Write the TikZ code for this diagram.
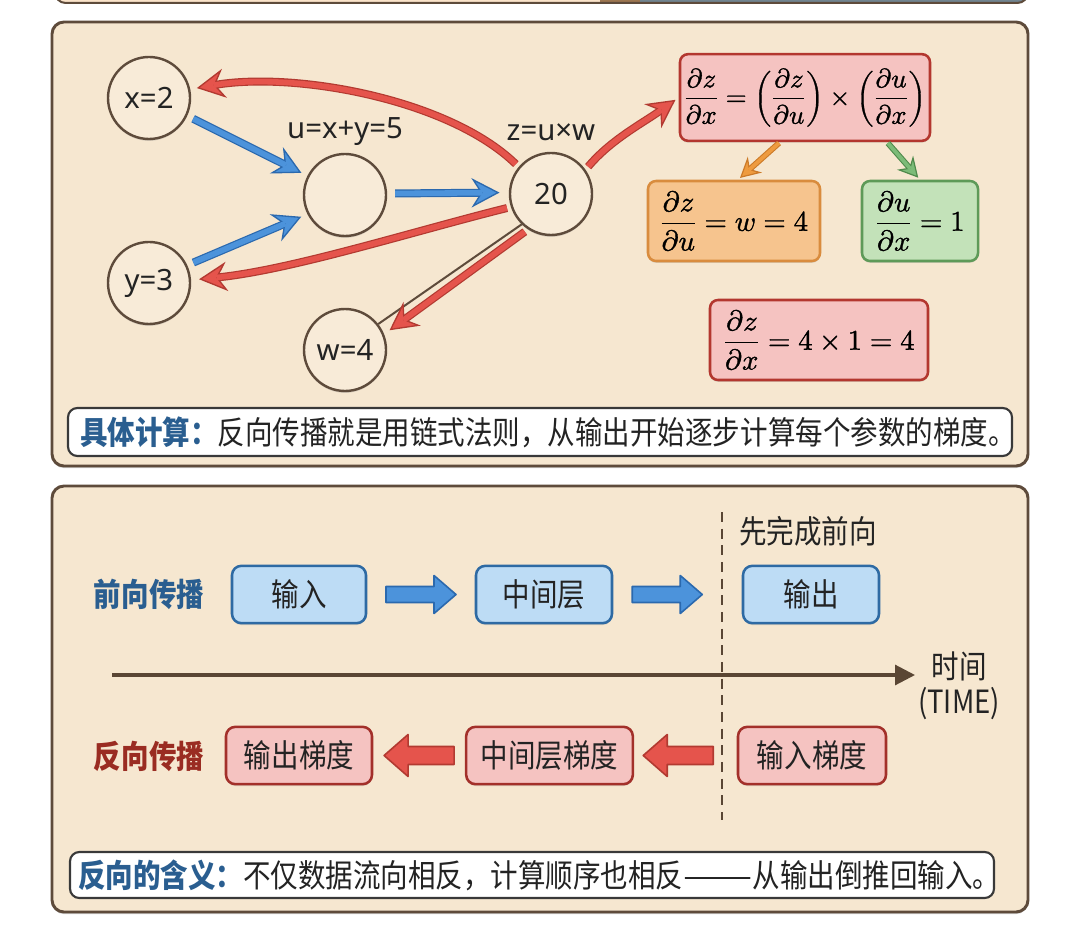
\documentclass[tikz,border=0pt]{standalone}
\usepackage{fontspec}
\usepackage{amsmath}
\usepackage{unicode-math}
\setmathfont{Latin Modern Math}[FakeBold=1.2]
\setmainfont{Noto Sans CJK SC}
\newfontfamily\cjkfont{Noto Sans CJK SC}[FakeStretch=0.86]
\newfontfamily\latfont{Noto Sans}
\usetikzlibrary{arrows.meta,calc,shadows}

\definecolor{panelbg}{HTML}{F6E7D0}
\definecolor{panelbd}{HTML}{5E4B3B}
\definecolor{circbg}{HTML}{F8EBD8}
\definecolor{ink}{HTML}{232323}
\definecolor{bluef}{HTML}{4C93DB}
\definecolor{blued}{HTML}{2B69AE}
\definecolor{redf}{HTML}{E5544C}
\definecolor{redd}{HTML}{B23A31}
\definecolor{orf}{HTML}{EE9B3F}
\definecolor{ord}{HTML}{CC7A28}
\definecolor{grf}{HTML}{7CBB78}
\definecolor{grd}{HTML}{4F8A4C}
\definecolor{rboxf}{HTML}{F5C3C1}
\definecolor{rboxd}{HTML}{B3372F}
\definecolor{oboxf}{HTML}{F6C48E}
\definecolor{oboxd}{HTML}{D98C3E}
\definecolor{gboxf}{HTML}{C3E2B9}
\definecolor{gboxd}{HTML}{5E9A58}
\definecolor{bboxf}{HTML}{BDDCF5}
\definecolor{bboxd}{HTML}{2E6AA3}
\definecolor{rbox2d}{HTML}{A3302A}
\definecolor{titleblue}{HTML}{2A5E90}
\definecolor{titlered}{HTML}{9A2C22}
\definecolor{timec}{HTML}{5A4634}
\definecolor{stripgray}{HTML}{71848F}
\definecolor{stripbrown}{HTML}{9C7650}

\newcommand\bigarrow[5]{%
  \draw[#2, line width=6pt, shorten <=#3, shorten >=#4,
        -{Stealth[length=21pt,width=22pt,inset=7pt,fill=#1,line width=1pt]}] #5;
  \draw[#1, line width=4.2pt, shorten <=#3, shorten >={#4+13pt}] #5;
}
\newcommand\smallarrow[5]{%
  \draw[#2, line width=4.4pt, shorten <=#3, shorten >=#4,
        -{Stealth[length=15pt,width=16pt,inset=5pt,fill=#1,line width=0.9pt]}] #5;
  \draw[#1, line width=2.8pt, shorten <=#3, shorten >={#4+9pt}] #5;
}

\tikzset{
  panel/.style={draw=panelbd, fill=panelbg, line width=2.2pt, rounded corners=9pt,
    drop shadow={shadow xshift=0pt, shadow yshift=-1.6pt, opacity=0.35}},
  circ/.style={circle, draw=panelbd, fill=circbg, line width=1.8pt, minimum size=61.5pt,
    inner sep=0pt, font=\latfont\fontsize{22}{26}\selectfont, text=ink,
    drop shadow={shadow xshift=0pt, shadow yshift=-1.4pt, opacity=0.3}},
  lbl/.style={font=\latfont\fontsize{22}{26}\selectfont, text=ink, inner sep=0pt},
  mbox/.style={rectangle, rounded corners=6pt, line width=1.9pt, inner sep=0pt,
    font=\fontsize{21.5}{26}\selectfont,
    drop shadow={shadow xshift=0pt, shadow yshift=-1.4pt, opacity=0.25}},
  cbox/.style={rectangle, rounded corners=7pt, line width=1.9pt, inner sep=0pt,
    font=\cjkfont\fontsize{24}{28}\selectfont, text=ink, minimum height=43pt,
    drop shadow={shadow xshift=0pt, shadow yshift=-1.4pt, opacity=0.25}},
  bluebox/.style={cbox, draw=bboxd, fill=bboxf},
  redbox/.style={cbox, draw=rbox2d, fill=rboxf},
  ctext/.style={font=\cjkfont\fontsize{24}{26}\selectfont, text=ink, inner sep=0pt},
  capbox/.style={rectangle, draw=ink!90, fill=white, line width=1.6pt, rounded corners=7pt,
    text=ink, align=left, inner ysep=0pt},
  blkblue/.style={draw=blued, fill=bluef, line width=1.2pt, line join=round},
  blkred/.style={draw=redd, fill=redf, line width=1.2pt, line join=round},
  rblock/.pic={\path[pic actions] (-35,-8) -- (13,-8) -- (13,-19) -- (35,0) -- (13,19) -- (13,8) -- (-35,8) -- cycle;},
  lblock/.pic={\path[pic actions] (35,-9) -- (-11,-9) -- (-11,-21) -- (-35,0) -- (-11,21) -- (-11,9) -- (35,9) -- cycle;},
}

\begin{document}
\begin{tikzpicture}[x=0.75pt,y=-0.75pt]
\useasboundingbox (0,0) rectangle (1080,944);
\fill[white] (0,0) rectangle (1080,944);

% strip of the panel above
\begin{scope}
  \clip[rounded corners=8pt] (55,-40) rectangle (1028,3);
  \fill[panelbg!80!orange!60] (55,-40) rectangle (600,3);
  \fill[stripbrown] (600,-40) rectangle (640,3);
  \fill[stripgray] (640,-40) rectangle (1028,3);
\end{scope}
\draw[panelbd, line width=1.5pt, rounded corners=8pt] (55,-40) rectangle (1028,3);

% panels
\draw[panel] (52,22) rectangle (1028,466);
\draw[panel] (52,486) rectangle (1028,912);

% ---------- panel 1: computation graph ----------
\node[circ] (nx) at (149,98) {x=2};
\node[circ] (nu) at (345,195) {};
\node[circ] (n20) at (551,194) {20};
\node[circ] (ny) at (149,283) {y=3};
\node[circ] (nw) at (345,350) {w=4};
\node[lbl] (lu) at (345,132) {u=x+y=5};
\node[lbl] (lz) at (551,132) {z=u×w};

\draw[panelbd, line width=1.5pt] (n20.226) -- (nw.38);

\bigarrow{bluef}{blued}{5pt}{5pt}{(nx.-25) -- (nu.153)}
\bigarrow{bluef}{blued}{5pt}{5pt}{(ny.25) -- (nu.207)}
\bigarrow{bluef}{blued}{6pt}{7pt}{(nu.2) -- (n20.178)}

\bigarrow{redf}{redd}{3pt}{5pt}{(n20.140) .. controls +(-70,-68) and +(104,-18) .. (nx.12)}
\bigarrow{redf}{redd}{3pt}{6pt}{(n20.198) .. controls +(-100,25) and +(100,-10) .. (ny.4)}
\bigarrow{redf}{redd}{3pt}{5pt}{(n20.237) -- (nw.22)}

% formula boxes
\node[mbox, draw=rboxd, fill=rboxf, minimum width=187.5pt, minimum height=65pt,
      font=\fontsize{20}{24}\selectfont] (fbox) at (805,97.5)
  {$\dfrac{\partial z}{\partial x}=\left(\dfrac{\partial z}{\partial u}\right)\times\left(\dfrac{\partial u}{\partial x}\right)$};
\node[mbox, draw=oboxd, fill=oboxf, minimum width=129pt, minimum height=60pt] (ob) at (734,221)
  {$\dfrac{\partial z}{\partial u}=w=4$};
\node[mbox, draw=gboxd, fill=gboxf, minimum width=87pt, minimum height=60pt] (gb) at (920,221)
  {$\dfrac{\partial u}{\partial x}=1$};
\node[mbox, draw=rboxd, fill=rboxf, minimum width=163.5pt, minimum height=60pt] (rb) at (819,340)
  {$\dfrac{\partial z}{\partial x}=4\times1=4$};

\bigarrow{redf}{redd}{3pt}{3pt}{(n20.35) .. controls +(25,-30) and +(-35,25) .. (fbox.west)}
\smallarrow{orf}{ord}{1pt}{2pt}{($(fbox.south)+(-25,0)$) -- ($(ob.north)+(4,0)$)}
\smallarrow{grf}{grd}{1pt}{2pt}{($(fbox.south)+(82,0)$) -- (gb.north)}

\node[capbox, text width=690pt, inner xsep=9pt, minimum height=36pt,
      font=\cjkfont\fontsize{24}{28}\selectfont] (cap1) at (540,432)
  {{\color{titleblue}\bfseries 具体计算：}反向传播就是用链式法则，从输出开始逐步计算每个参数的梯度。};

% ---------- panel 2: time line ----------
\draw[timec, line width=1.4pt, dash pattern=on 7.5pt off 5pt] (722,512) -- (722,820);
\node[ctext] (pre) at (808,531) {先完成前向};

\node[ctext, text=titleblue, font=\cjkfont\bfseries\fontsize{24}{26}\selectfont] (fwd) at (149,594) {前向传播};
\node[bluebox, minimum width=100.5pt] (in) at (299,594.5) {输入};
\node[bluebox, minimum width=102pt] (mid) at (544,594.5) {中间层};
\node[bluebox, minimum width=102pt] (out) at (811,594.5) {输出};
\pic[blkblue] at ($(in.east)!0.5!(mid.west)$) {rblock};
\pic[blkblue] at ($(mid.east)+(54,0)$) {rblock};

\coordinate (t0) at (112,675);
\coordinate (t1) at (915,675);
\draw[timec, line width=2.3pt, -{Triangle[length=15pt,width=15pt]}] (t0) -- (t1);
\node[ctext, align=center, font=\cjkfont\fontsize{24}{26}\selectfont] (tl) at (959,686) {时间\\(TIME)};

\node[ctext, text=titlered, font=\cjkfont\bfseries\fontsize{24}{26}\selectfont] (bwd) at (149,756) {反向传播};
\node[redbox, minimum width=109.5pt] (og) at (299,755.5) {输出梯度};
\node[redbox, minimum width=125pt] (mg) at (549.5,755.5) {中间层梯度};
\node[redbox, minimum width=111pt] (ig) at (812,755.5) {输入梯度};
\pic[blkred] at ($(og.east)!0.5!(mg.west)$) {lblock};
\pic[blkred] at ($(mg.east)!0.43!(ig.west)$) {lblock};

\node[capbox, text width=681pt, inner xsep=6pt, minimum height=34.5pt,
      font=\cjkfont\fontsize{24}{28}\selectfont] (cap2) at (532,875)
  {{\color{titleblue}\bfseries 反向的含义：}不仅数据流向相反，计算顺序也相反\scalebox{1.5}[1]{——}从输出倒推回输入。};
\end{tikzpicture}
\end{document}
